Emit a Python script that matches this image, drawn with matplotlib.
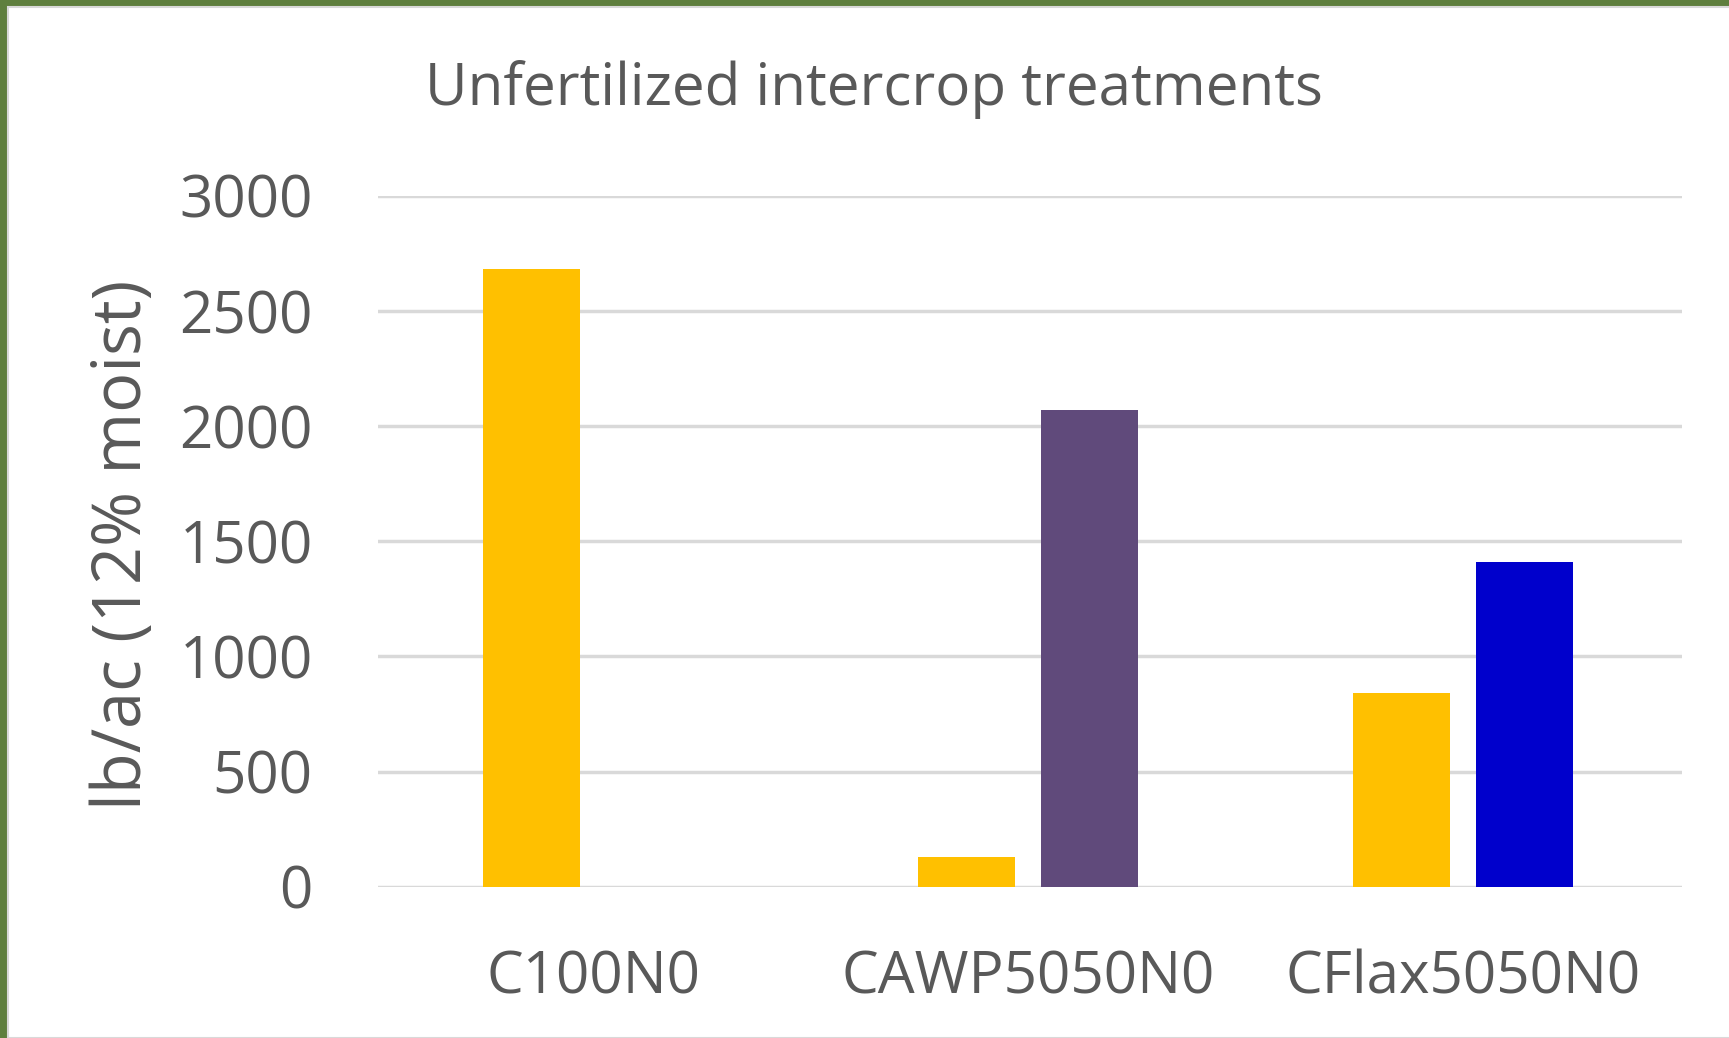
import matplotlib
matplotlib.use("Agg")
import matplotlib.pyplot as plt
from matplotlib.patches import Rectangle
import numpy as np

categories = ["C100N0", "CAWP5050N0", "CFlax5050N0"]
canola = [2680, 127, 839]
partner = [0, 2069, 1408]
partner_colors = ["#604A7B", "#604A7B", "#0000CC"]
yticks = [0, 500, 1000, 1500, 2000, 2500, 3000]

plt.rcParams['font.family'] = ['Open Sans', 'DejaVu Sans']
TXT = "#595959"

fig = plt.figure(figsize=(17.29, 10.38), dpi=100)
fig.patch.set_facecolor("#5f7f3e")
fig.patches.append(Rectangle((8/1729, 0), 1, 1 - 7/1038, transform=fig.transFigure,
                             facecolor="white", edgecolor="#d9d9d9", linewidth=1.5, zorder=-5))

L, R, T, B = 378, 1682, 195.7, 886.7
ax = fig.add_axes([L/1729, 1 - B/1038, (R-L)/1729, (B-T)/1038])
ax.set_zorder(2)
ax.set_facecolor("none")
x = np.arange(len(categories))
w = 0.223
off = 0.1425
ax.bar(x - off, canola, width=w, color="#FFC000", zorder=3)
ax.bar(x + off, partner, width=w, color=partner_colors, zorder=3)

ax.set_ylim(0, 3000)
ax.set_xlim((L - 593)/435, (R - 593)/435)
ax.set_yticks(yticks)
ax.set_yticklabels([str(v) for v in yticks])
ax.set_xticks(x)
ax.set_xticklabels(categories)
ax.yaxis.grid(True, color="#d9d9d9", linewidth=2.5, zorder=0)
ax.set_axisbelow(True)
for s in ax.spines.values():
    s.set_visible(False)
ax.tick_params(axis='both', length=0, labelsize=42, labelcolor=TXT)
ax.tick_params(axis='y', pad=47)
ax.tick_params(axis='x', pad=45)

ax.set_ylabel("lb/ac (12% moist)", fontsize=48, color=TXT)
ax.yaxis.set_label_coords((157 - L)/(R - L), 1 - (545 - T)/(B - T))
fig.text(874/1729, 1 - 90/1038, "Unfertilized intercrop treatments", ha="center", va="center",
         fontsize=42, color=TXT)

fig.savefig("out.png", dpi=100, facecolor=fig.get_facecolor())
